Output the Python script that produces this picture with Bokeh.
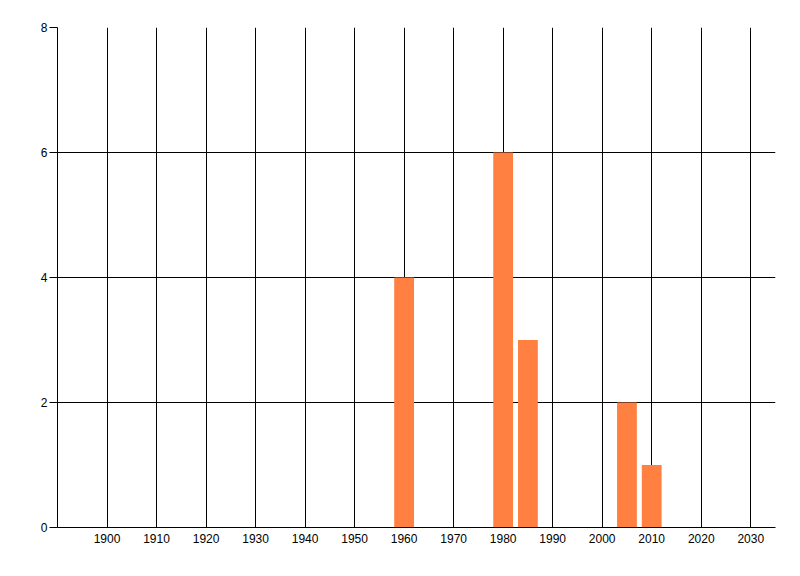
from bokeh.plotting import figure
from bokeh.models import Range1d, FixedTicker, ColumnDataSource
from bokeh.embed import file_html
from bokeh.resources import INLINE

years = [1960, 1980, 1985, 2005, 2010]
counts = [4, 6, 3, 2, 1]
x_ticks = [1900, 1910, 1920, 1930, 1940, 1950, 1960, 1970, 1980, 1990, 2000, 2010, 2020, 2030]
y_ticks = [0, 2, 4, 6, 8]

src = ColumnDataSource(dict(x=years, top=counts))

p = figure(width=792, height=568, frame_width=718, frame_height=500,
           x_range=Range1d(1890, 2035), y_range=Range1d(0, 8),
           output_backend="svg", toolbar_location=None,
           min_border_left=57, min_border_top=27, min_border_right=17, min_border_bottom=41)
p.outline_line_color = None
p.background_fill_color = "white"
p.border_fill_color = "white"

p.vbar(x="x", top="top", bottom=0, width=4, source=src, fill_color="#FF8040", line_color=None)

for ax in (p.xaxis[0], p.yaxis[0]):
    ax.axis_line_color = "black"
    ax.axis_line_width = 1
    ax.major_label_text_font = "Liberation Sans"
    ax.major_label_text_font_size = "12px"
    ax.major_label_text_color = "black"
    ax.minor_tick_line_color = None

p.xaxis.ticker = FixedTicker(ticks=x_ticks)
p.xaxis.major_tick_out = 0
p.xaxis.major_tick_in = 0
p.xaxis.major_label_standoff = 6

p.yaxis.ticker = FixedTicker(ticks=y_ticks)
p.yaxis.major_tick_out = 8
p.yaxis.major_tick_in = 0
p.yaxis.major_tick_line_color = "black"
p.yaxis.major_label_standoff = 2

p.xgrid.ticker = FixedTicker(ticks=x_ticks)
p.ygrid.ticker = FixedTicker(ticks=y_ticks)
p.grid.grid_line_color = "black"
p.grid.grid_line_width = 1
p.grid.grid_line_alpha = 1.0
p.grid.level = "underlay"

open("out.html", "w").write(file_html(p, INLINE))
